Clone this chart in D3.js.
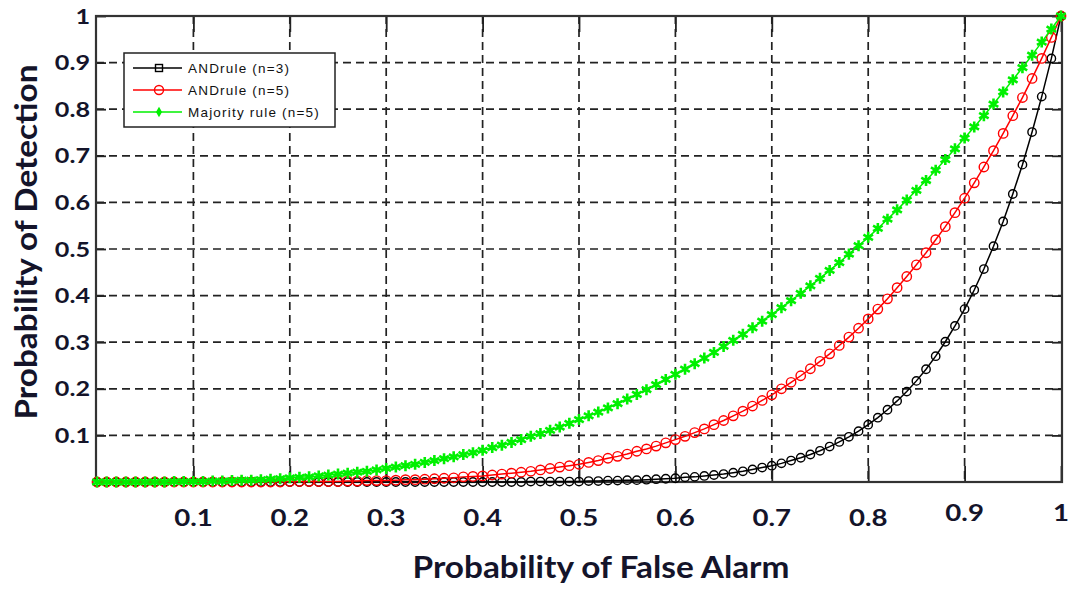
<!DOCTYPE html>
<html><head><meta charset="utf-8">
<script src="https://cdn.jsdelivr.net/npm/d3@7"></script>
<style>
html,body{margin:0;padding:0;background:#fff;}
svg{display:block;}
</style></head>
<body>
<svg id="chart" width="1073" height="590"></svg>
<script>
// Probability of false alarm (x)
const pf = [0,0.01,0.02,0.03,0.04,0.05,0.06,0.07,0.08,0.09,
0.10,0.11,0.12,0.13,0.14,0.15,0.16,0.17,0.18,0.19,
0.20,0.21,0.22,0.23,0.24,0.25,0.26,0.27,0.28,0.29,
0.30,0.31,0.32,0.33,0.34,0.35,0.36,0.37,0.38,0.39,
0.40,0.41,0.42,0.43,0.44,0.45,0.46,0.47,0.48,0.49,
0.50,0.51,0.52,0.53,0.54,0.55,0.56,0.57,0.58,0.59,
0.60,0.61,0.62,0.63,0.64,0.65,0.66,0.67,0.68,0.69,
0.70,0.71,0.72,0.73,0.74,0.75,0.76,0.77,0.78,0.79,
0.80,0.81,0.82,0.83,0.84,0.85,0.86,0.87,0.88,0.89,
0.90,0.91,0.92,0.93,0.94,0.95,0.96,0.97,0.98,0.99,1];

// AND rule (n=3)
const andRule3 = [0,0,0,0,0,0,0,0,0,0,
0,0,0,0,0,0,0,0,0,0,
0,0,0,0,0,0,0,0,0,0,
0,0,0,0,0,0,0,0,0,0,
0,0,0,0,0,0.001,0.001,0.001,0.001,0.001,
0.001,0.002,0.002,0.003,0.003,0.004,0.004,0.005,0.006,0.007,
0.008,0.010,0.011,0.013,0.015,0.017,0.020,0.023,0.027,0.031,
0.035,0.040,0.046,0.052,0.059,0.067,0.076,0.086,0.097,0.109,
0.123,0.138,0.155,0.174,0.194,0.217,0.242,0.270,0.301,0.335,
0.371,0.412,0.457,0.506,0.559,0.618,0.681,0.751,0.827,0.909,1];

// AND rule (n=5)
const andRule5 = [0,0,0,0,0,0,0,0,0,0,
0,0,0,0,0,0,0,0,0,0,
0.001,0.001,0.001,0.001,0.001,0.001,0.002,0.002,0.003,0.003,
0.003,0.004,0.005,0.005,0.006,0.007,0.008,0.009,0.011,0.012,
0.013,0.015,0.017,0.019,0.021,0.023,0.026,0.029,0.032,0.035,
0.038,0.042,0.046,0.051,0.055,0.060,0.066,0.071,0.077,0.084,
0.091,0.098,0.106,0.114,0.123,0.132,0.142,0.152,0.163,0.175,
0.187,0.200,0.214,0.228,0.243,0.259,0.275,0.293,0.311,0.330,
0.350,0.371,0.393,0.417,0.441,0.466,0.492,0.520,0.548,0.578,
0.609,0.642,0.676,0.711,0.748,0.786,0.825,0.866,0.909,0.954,1];

// Majority rule (n=5)
const majority5 = [0,0,0,0,0,0,0,0,0.001,0.001,
0.001,0.001,0.002,0.002,0.003,0.004,0.004,0.005,0.006,0.007,
0.009,0.010,0.011,0.013,0.015,0.017,0.019,0.021,0.023,0.026,
0.029,0.032,0.035,0.038,0.042,0.046,0.050,0.054,0.059,0.063,
0.068,0.074,0.079,0.085,0.091,0.098,0.104,0.111,0.118,0.126,
0.134,0.142,0.150,0.159,0.168,0.178,0.188,0.198,0.209,0.220,
0.231,0.242,0.254,0.266,0.278,0.291,0.304,0.317,0.331,0.345,
0.359,0.374,0.389,0.405,0.421,0.437,0.454,0.471,0.489,0.507,
0.525,0.544,0.564,0.584,0.605,0.626,0.647,0.669,0.692,0.715,
0.738,0.762,0.786,0.811,0.837,0.863,0.889,0.916,0.944,0.972,1];

const seriesNames = ["ANDrule (n=3)", "ANDrule (n=5)", "Majority rule (n=5)"];
const xTickValues = [0.1,0.2,0.3,0.4,0.5,0.6,0.7,0.8,0.9,1];
const yTickValues = [0.1,0.2,0.3,0.4,0.5,0.6,0.7,0.8,0.9,1];
const xTitle = "Probability of False Alarm";
const yTitle = "Probability of Detection";

const svg = d3.select("#chart");
const L = 96, R = 1062, T = 16, B = 482;
const x = d3.scaleLinear().domain([0,1]).range([L+1, R-1]);
const y = d3.scaleLinear().domain([0,1]).range([B, T]);

const labelFont = "Lato, 'Open Sans', sans-serif";
const textColor = "#14142a";

// grid
const grid = svg.append("g");
grid.selectAll("line.gx").data(xTickValues.slice(0,-1)).join("line")
  .attr("x1", d=>x(d)).attr("x2", d=>x(d)).attr("y1", T).attr("y2", B)
  .attr("stroke","#222").attr("stroke-width",1.7).attr("stroke-dasharray","8,5");
grid.selectAll("line.gy").data(yTickValues.slice(0,-1)).join("line")
  .attr("y1", d=>y(d)).attr("y2", d=>y(d)).attr("x1", L).attr("x2", R)
  .attr("stroke","#222").attr("stroke-width",1.7).attr("stroke-dasharray","8,5");

// axes with inward ticks
const xAxisB = d3.axisBottom(x).tickValues(xTickValues).tickSize(-16).tickFormat("");
const xAxisT = d3.axisTop(x).tickValues(xTickValues).tickSize(-16).tickFormat("");
const yAxisL = d3.axisLeft(y).tickValues(yTickValues).tickSize(-10).tickFormat("");
const yAxisR = d3.axisRight(y).tickValues(yTickValues).tickSize(-10).tickFormat("");
[[xAxisB,`translate(0,${B})`],[xAxisT,`translate(0,${T})`],[yAxisL,`translate(${L},0)`],[yAxisR,`translate(${R},0)`]].forEach(([ax,tr])=>{
  const g = svg.append("g").attr("transform",tr).call(ax);
  g.select(".domain").remove();
  g.selectAll(".tick line").attr("stroke","#222").attr("stroke-width",1.8);
});

// frame
svg.append("rect").attr("x",L).attr("y",T).attr("width",R-L).attr("height",B-T)
  .attr("fill","none").attr("stroke","#333").attr("stroke-width",2.2);

// tick labels (horizontally stretched like the source image)
svg.append("g").selectAll("text").data(xTickValues).join("text")
  .attr("transform", d=>`translate(${x(d)},${d>=0.9 ? 521 : 526}) scale(1.2,1)`)
  .attr("text-anchor","middle")
  .attr("font-family",labelFont).attr("font-weight","bold").attr("font-size",23)
  .attr("fill",textColor).text(d=>d===1?"1":d3.format(".1f")(d));
svg.append("g").selectAll("text").data(yTickValues).join("text")
  .attr("transform", d=>`translate(90,${y(d)+7.5}) scale(1.2,1)`)
  .attr("text-anchor","end")
  .attr("font-family",labelFont).attr("font-weight","bold").attr("font-size",21)
  .attr("fill",textColor).text(d=>d===1?"1":d3.format(".1f")(d));

// titles
svg.append("text").attr("x",601).attr("y",578).attr("text-anchor","middle")
  .attr("font-family",labelFont).attr("font-weight","bold").attr("font-size",30)
  .attr("textLength",377).attr("lengthAdjust","spacingAndGlyphs")
  .attr("fill",textColor).text(xTitle);
svg.append("text").attr("transform","translate(37,242) rotate(-90)").attr("text-anchor","middle")
  .attr("font-family",labelFont).attr("font-weight","bold").attr("font-size",31)
  .attr("textLength",355).attr("lengthAdjust","spacingAndGlyphs")
  .attr("fill",textColor).text(yTitle);

// series
const series = [
  {name:seriesNames[0], vals:andRule3, color:"#000000", type:"circle", r:4.2},
  {name:seriesNames[1], vals:andRule5, color:"#ff0000", type:"circle", r:4.7},
  {name:seriesNames[2], vals:majority5, color:"#00f000", type:"star"}
];
const line = d3.line().x(d=>x(d[0])).y(d=>y(d[1]));
const star = d3.symbol().type(d3.symbolAsterisk).size(85);
series.forEach(s=>{
  const pts = pf.map((p,i)=>[p, s.vals[i]]);
  const g = svg.append("g");
  g.append("path").datum(pts).attr("d",line).attr("fill","none")
    .attr("stroke",s.color).attr("stroke-width",1.5);
  if (s.type==="circle") {
    g.selectAll("circle").data(pts).join("circle")
      .attr("cx",d=>x(d[0])).attr("cy",d=>y(d[1])).attr("r",s.r)
      .attr("fill","none").attr("stroke",s.color).attr("stroke-width",1.4);
  } else {
    g.selectAll("path.m").data(pts).join("path").attr("class","m")
      .attr("d",star).attr("transform",d=>`translate(${x(d[0])},${y(d[1])})`)
      .attr("fill","none").attr("stroke",s.color).attr("stroke-width",2.6);
  }
});

// legend
const lg = svg.append("g");
lg.append("rect").attr("x",124).attr("y",53).attr("width",211).attr("height",74)
  .attr("fill","#fff").attr("stroke","#222").attr("stroke-width",1.5);
const legY = [68, 90, 112];
series.forEach((s,i)=>{
  lg.append("line").attr("x1",133).attr("x2",182).attr("y1",legY[i]).attr("y2",legY[i])
    .attr("stroke",s.color).attr("stroke-width",1.5);
  if (i===0) {
    lg.append("rect").attr("x",155.5).attr("y",legY[i]-3.5).attr("width",7).attr("height",7)
      .attr("fill","none").attr("stroke",s.color).attr("stroke-width",1.4);
  } else if (i===1) {
    lg.append("circle").attr("cx",159).attr("cy",legY[i]).attr("r",4.5)
      .attr("fill","none").attr("stroke",s.color).attr("stroke-width",1.4);
  } else {
    lg.append("path").attr("d",d3.symbol().type(d3.symbolDiamond).size(32)())
      .attr("transform",`translate(159,${legY[i]})`).attr("fill",s.color);
  }
  lg.append("text").attr("x",188).attr("y",legY[i]+5)
    .attr("font-family","'Liberation Sans', Arial, sans-serif").attr("font-size",13.5)
    .attr("letter-spacing",1.2)
    .attr("fill","#111").text(s.name);
});
</script>
</body></html>
